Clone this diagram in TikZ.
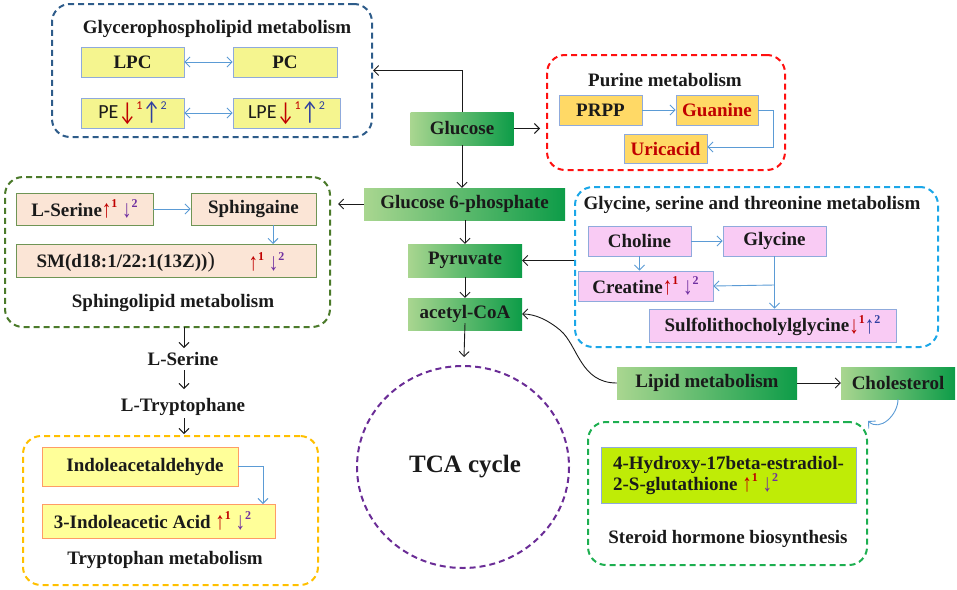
\documentclass[tikz,border=0pt]{standalone}
\usepackage{fontspec}
\setmainfont{Liberation Serif}
\newfontfamily\calfont{Carlito}
\usetikzlibrary{arrows.meta,shapes.geometric}
\definecolor{blk}{HTML}{1A1A1A}
\definecolor{lblue}{HTML}{5B9BD5}
\definecolor{bordblue}{HTML}{8FAADC}
\definecolor{gyell}{HTML}{F5F58F}
\definecolor{orfill}{HTML}{FFD966}
\definecolor{peach}{HTML}{FBE5D6}
\definecolor{pinkf}{HTML}{F9CBF4}
\definecolor{limef}{HTML}{BFEC06}
\definecolor{yelf}{HTML}{FFFF99}
\definecolor{darkred}{HTML}{C00000}
\definecolor{purp}{HTML}{7030A0}
\definecolor{dblue}{HTML}{2F3FA0}
\definecolor{gbord}{HTML}{2E5C8A}
\definecolor{rbord}{HTML}{FF1010}
\definecolor{dgbord}{HTML}{4B7A2A}
\definecolor{cbord}{HTML}{1BA7E8}
\definecolor{obord}{HTML}{FFC000}
\definecolor{sgbord}{HTML}{1DAF50}
\definecolor{tcapurp}{HTML}{6A2C96}
\definecolor{gleft}{HTML}{A9D690}
\definecolor{gright}{HTML}{0D9C48}
\newcommand{\supsz}{\fontsize{12}{12}\selectfont}
\newcommand{\tallup}{\raisebox{-0.08em}{\scalebox{1}[1.3]{↑}}}
\newcommand{\talldn}{\raisebox{-0.08em}{\scalebox{1}[1.3]{↓}}}
\newcommand{\up}[1]{\textcolor{darkred}{\tallup\raisebox{0.45em}{\supsz #1}}}
\newcommand{\dn}[1]{\textcolor{purp}{\talldn\raisebox{0.45em}{\supsz #1}}}
\newcommand{\dnr}[1]{\textcolor{darkred}{\talldn\raisebox{0.45em}{\supsz #1}}}
\newcommand{\upb}[1]{\textcolor{dblue}{\tallup\raisebox{0.45em}{\supsz #1}}}
\tikzset{
  every node/.style={font=\bfseries\fontsize{19}{21}\selectfont, text=blk},
  pbox/.style={draw, line width=0.8pt, inner sep=0pt},
  gbox/.style={pbox, fill=gyell, draw=bordblue},
  obox/.style={pbox, draw=bordblue, fill=orfill},
  sbox/.style={pbox, draw=dgbord!80, fill=peach},
  kbox/.style={pbox, draw=bordblue, fill=pinkf},
  tbox/.style={pbox, draw=orange!70!red!60, fill=yelf},
  lbox/.style={pbox, draw=bordblue, fill=limef},
  mbox/.style={inner sep=0pt, left color=gleft, right color=gright, shading angle=90},
  grp/.style={draw, line width=2pt, dash pattern=on 6pt off 4pt, rounded corners=18pt, inner sep=0pt},
  barr/.style={-{Straight Barb[length=5pt,width=10pt]}, line width=0.9pt, blk},
  larr/.style={-{Straight Barb[length=5pt,width=10pt]}, line width=0.9pt, lblue},
  dlarr/.style={{Straight Barb[length=5pt,width=10pt]}-{Straight Barb[length=5pt,width=10pt]}, line width=0.9pt, lblue},
  ttl/.style={font=\bfseries\fontsize{19}{21}\selectfont}
}
\begin{document}
\begin{tikzpicture}[x=1pt,y=-1pt]
\useasboundingbox (0,0) rectangle (957,589);
% group boxes
\node[grp, draw=gbord, minimum width=320, minimum height=133] (gly) at (212,70.5) {};
\node[ttl] (glyt) at (217,29) {Glycerophospholipid metabolism};
\node[grp, draw=rbord, minimum width=238, minimum height=115] (pur) at (666,112.5) {};
\node[ttl] (purt) at (665,80) {Purine metabolism};
\node[grp, draw=dgbord, minimum width=325, minimum height=150] (sph) at (167.5,252) {};
\node[ttl] (spht) at (173,303) {Sphingolipid metabolism};
\node[grp, draw=cbord, minimum width=363, minimum height=160] (gsg) at (756.5,267) {};
\node[ttl] (gsgt) at (752,205) {Glycine, serine and threonine metabolism};
\node[grp, draw=obord, minimum width=295, minimum height=149] (try) at (170.5,510.5) {};
\node[ttl] (tryt) at (165,560) {Tryptophan metabolism};
\node[grp, draw=sgbord, minimum width=279, minimum height=143] (ste) at (727.5,493.5) {};
\node[ttl] (stet) at (728,539) {Steroid hormone biosynthesis};
\draw[tcapurp, line width=2pt, dash pattern=on 6pt off 4pt] (463,467) ellipse [x radius=106, y radius=101];
\node[font=\bfseries\fontsize{25}{27}\selectfont] (tca) at (465,467) {TCA cycle};
% glycerophospholipid
\node[gbox, minimum width=103, minimum height=30] (lpc) at (132.5,62) {LPC};
\node[gbox, minimum width=104, minimum height=30] (pc) at (285,62) {PC};
\node[gbox, minimum width=103, minimum height=30] (pe) at (132.5,113) {\calfont\mdseries\fontsize{20}{22}\selectfont PE\dnr{1}\upb{2}};
\node[gbox, minimum width=107, minimum height=30] (lpe) at (286.5,113) {\calfont\mdseries\fontsize{20}{22}\selectfont LPE\dnr{1}\upb{2}};
\draw[dlarr] (lpc) -- (pc);
\draw[dlarr] (pe) -- (lpe);
% main chain
\node[mbox, minimum width=103, minimum height=33] (glu) at (462,128.5) {Glucose};
\node[mbox, minimum width=201, minimum height=32] (g6p) at (464.5,204) {Glucose 6-phosphate};
\node[mbox, minimum width=114, minimum height=33] (pyr) at (465,260.5) {Pyruvate};
\node[mbox, minimum width=114, minimum height=32] (aco) at (465,314) {acetyl-CoA};
\node[mbox, minimum width=180, minimum height=32] (lip) at (707,383) {Lipid metabolism};
\node[mbox, minimum width=114, minimum height=32] (cho) at (898,383) {Cholesterol};
\draw[barr] (glu.north) |- (gly.east);
\draw[barr] (glu.east) -- ([xshift=-6pt]pur.west |- glu.east);
\draw[barr] (glu.south) -- (glu.south |- g6p.north);
\draw[barr] (g6p.west) -- ([xshift=7pt]sph.east |- g6p.west) coordinate (g6pe);
\draw[barr] (g6p.south -| pyr.north) -- (pyr.north);
\draw[barr] (pyr.south) -- (aco.north);
\coordinate (tcatop) at (464,357);
\draw[barr] ([yshift=7pt]aco.south) -- (tcatop);
\draw[barr] (gsg.west |- pyr.east) -- (pyr.east);
\draw[barr] (lip.west) .. controls (580,383) and (578,345) .. (560,330) .. controls (548,320) and (535,314) .. (aco.east);
\draw[barr] (lip.east) -- (cho.west);
\draw[larr] (cho.south) .. controls (898,415) and (880,432) .. (ste.north east);
% purine
\node[obox, minimum width=83, minimum height=30] (prpp) at (600.5,110) {PRPP};
\node[obox, minimum width=82, minimum height=30, text=darkred] (gua) at (717,110) {Guanine};
\node[obox, minimum width=83, minimum height=29, text=darkred] (uri) at (665.5,148.5) {Uricacid};
\draw[larr] (prpp) -- (gua);
\draw[larr] (gua.east) -- (773,110) -- (773,147) -- (uri.east |- 0,147);
% sphingolipid
\node[sbox, minimum width=137, minimum height=32] (lser) at (84.5,209) {L-Serine\up{1} \dn{2}};
\node[sbox, minimum width=125, minimum height=32] (sphg) at (253.5,209) {Sphingaine};
\node[sbox, minimum width=300, minimum height=33] (sm) at (166,260.5) {};
\node[anchor=west] (smt) at (33,262) {SM(d18:1/22:1(13Z))\textmd{\fontsize{22}{22}\selectfont )}};
\node[anchor=west] (smarr) at (245,262) {\up{1} \dn{2}};
\draw[larr] (lser) -- (sphg);
\draw[larr] (273,225) -- (273,244);
% L-Serine / Tryptophane
\node (ls) at (183,359) {L-Serine};
\node (lt) at (183,407) {L-Tryptophane};
\draw[barr] (184,327) -- (184,348);
\draw[barr] (184,370) -- (184,389);
\draw[barr] (184,418) -- (184,434);
% tryptophan
\node[tbox, minimum width=196, minimum height=39] (ind) at (140,466.5) {\hspace*{10pt}Indoleacetaldehyde};
\node[tbox, minimum width=233, minimum height=34] (iaa) at (158.5,521) {\hspace*{-12pt}3-Indoleacetic Acid \up{1} \dn{2}};
\draw[larr] (ind.east) -- (263,466.5) -- (263,504);
% glycine serine threonine
\node[kbox, minimum width=103, minimum height=30] (chol) at (639.5,241) {Choline};
\node[kbox, minimum width=103, minimum height=30] (gly2) at (774.5,241) {Glycine};
\node[kbox, minimum width=135, minimum height=30] (cre) at (645.5,286) {Creatine\up{1} \dn{2}};
\node[kbox, minimum width=247, minimum height=33] (sul) at (772.5,325.5) {Sulfolithocholylglycine\dnr{1}\upb{2}};
\draw[larr] (chol) -- (gly2);
\draw[larr] (chol.south) -- (cre.north -| chol.south);
\draw[larr] (gly2.south) -- (sul.north -| gly2.south);
\draw[larr] (774.5,285) -- (cre.east);
% steroid
\node[lbox, minimum width=255, minimum height=56, align=left] (hyd) at (728.5,475) {4-Hydroxy-17beta-estradiol-\\2-S-glutathione \up{1} \dn{2}};
\end{tikzpicture}
\end{document}
